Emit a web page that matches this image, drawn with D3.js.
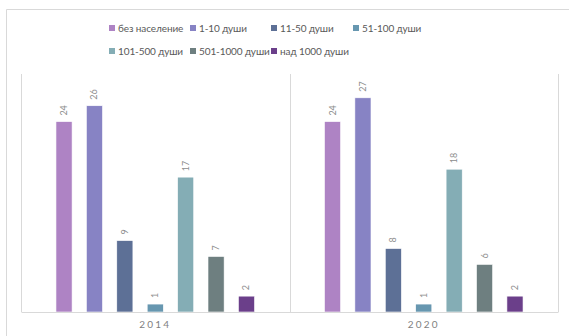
<!DOCTYPE html>
<html lang="bg">
  <head>
    <meta charset="UTF-8" />
    <title>Населени места по брой жители</title>
    <script src="https://d3js.org/d3.v7.min.js"></script>
    <style>
      html,
      body {
        margin: 0;
        padding: 0;
        background: #fff;
        font-family: Lato, "Liberation Sans", sans-serif;
      }
    </style>
  </head>
  <body>
    <svg id="chart"></svg>
    <script>
      // data
      const years = ["2014", "2020"];
      const groups = [
        "без население",
        "1-10 души",
        "11-50 души",
        "51-100 души",
        "101-500 души",
        "501-1000 души",
        "над 1000 души",
      ];
      const values2014 = [24, 26, 9, 1, 17, 7, 2];
      const values2020 = [24, 27, 8, 1, 18, 6, 2];
      const colors = [
        "#ae83c4",
        "#8783c4",
        "#5d7096",
        "#6797b0",
        "#84adb5",
        "#6e7f80",
        "#6b3f8a",
      ];

      const width = 569;
      const height = 336;
      const plot = { left: 21, right: 558, top: 74, bottom: 312 };

      const svg = d3
        .select("#chart")
        .attr("width", width)
        .attr("height", height);

      // outer frame (cut off on right and bottom)
      svg
        .append("path")
        .attr("d", `M6.5,${height} V9.5 H${width}`)
        .attr("fill", "none")
        .attr("stroke", "#d9d9d9");

      const x0 = d3
        .scaleBand()
        .domain(years)
        .range([plot.left, plot.right])
        .padding(0);

      const x1 = d3
        .scaleBand()
        .domain(groups)
        .range([0, x0.bandwidth()])
        .paddingInner(0.47)
        .paddingOuter(1.15);

      const y = d3.scaleLinear().domain([0, 30]).range([plot.bottom, plot.top]);

      const color = d3.scaleOrdinal().domain(groups).range(colors);

      // vertical separators between categories
      const seps = [plot.left, ...years.map((yr) => x0(yr) + x0.bandwidth())];
      svg
        .selectAll(".sep")
        .data(seps)
        .enter()
        .append("line")
        .attr("x1", (d) => Math.round(d) + 0.5)
        .attr("x2", (d) => Math.round(d) + 0.5)
        .attr("y1", plot.top)
        .attr("y2", plot.bottom)
        .attr("stroke", "#d9d9d9");

      const table = years.map((yr, i) => ({
        year: yr,
        vals: groups.map((g, j) => ({
          group: g,
          value: (i === 0 ? values2014 : values2020)[j],
        })),
      }));

      const cat = svg
        .selectAll(".cat")
        .data(table)
        .enter()
        .append("g")
        .attr("transform", (d) => `translate(${x0(d.year)},0)`);

      cat
        .selectAll("rect")
        .data((d) => d.vals)
        .enter()
        .append("rect")
        .attr("x", (d) => x1(d.group))
        .attr("y", (d) => y(d.value))
        .attr("width", x1.bandwidth())
        .attr("height", (d) => plot.bottom - y(d.value))
        .attr("fill", (d) => color(d.group))
        .attr("stroke", "#fff")
        .attr("stroke-width", 0.6);

      // value labels, rotated
      cat
        .selectAll(".lbl")
        .data((d) => d.vals)
        .enter()
        .append("text")
        .attr(
          "transform",
          (d) =>
            `translate(${x1(d.group) + x1.bandwidth() / 2 + 3},${
              y(d.value) - 6
            }) rotate(-90)`
        )
        .attr("font-size", 9)
        .attr("fill", "#8c8c8c")
        .text((d) => d.value);

      // x axis
      const xAxis = svg
        .append("g")
        .attr("transform", `translate(0,${plot.bottom})`)
        .call(d3.axisBottom(x0).tickSize(0).tickPadding(9));
      xAxis.select(".domain").attr("stroke", "#d9d9d9");
      xAxis
        .selectAll("text")
        .attr("font-family", "Lato, sans-serif")
        .attr("font-size", 10)
        .attr("letter-spacing", 2.2)
        .attr("fill", "#7f7f7f");

      // legend
      const legendX = [109, 190, 271, 353];
      const legend = svg
        .selectAll(".legend-item")
        .data(groups)
        .enter()
        .append("g")
        .attr(
          "transform",
          (d, i) => `translate(${legendX[i % 4]},${i < 4 ? 28 : 51})`
        );

      legend
        .append("rect")
        .attr("x", 0)
        .attr("y", -3)
        .attr("width", 6)
        .attr("height", 6)
        .attr("fill", (d) => color(d));

      legend
        .append("text")
        .attr("x", 9)
        .attr("y", 3.5)
        .attr("font-size", 10)
        .attr("letter-spacing", -0.1)
        .attr("fill", "#595959")
        .text((d) => d);
    </script>
  </body>
</html>
